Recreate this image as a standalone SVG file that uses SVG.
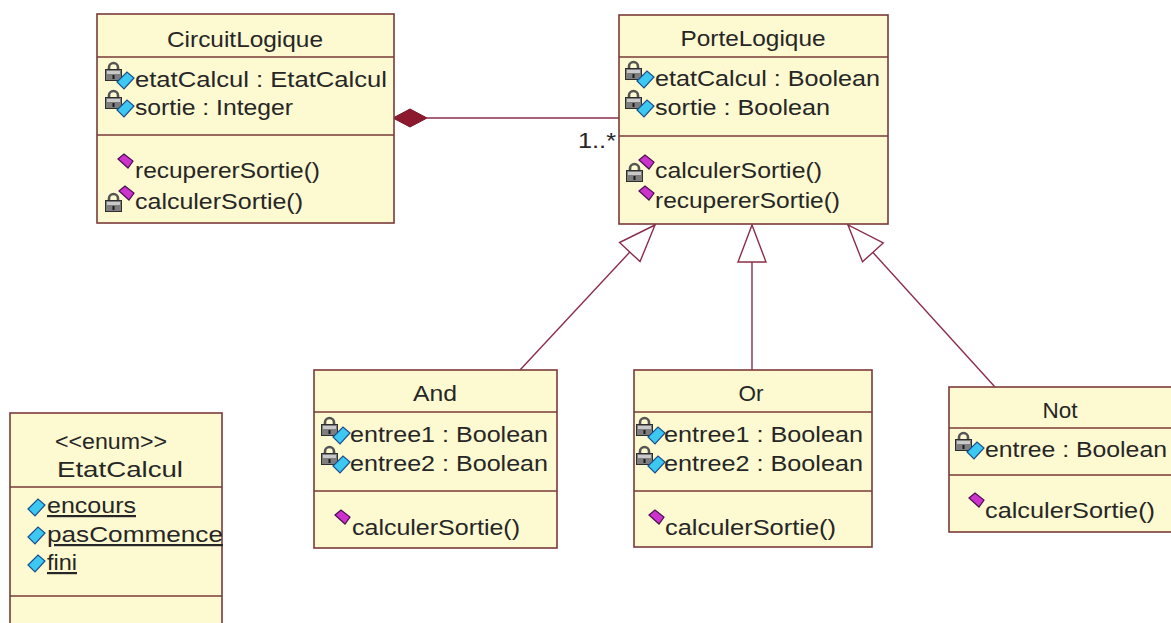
<svg xmlns="http://www.w3.org/2000/svg" xmlns:xlink="http://www.w3.org/1999/xlink" width="1171" height="623" viewBox="0 0 1171 623">
<style>
  .box { fill: #fdf9d0; stroke: #7a3a3a; stroke-width: 1.6; }
  .sep { stroke: #7a3a3a; stroke-width: 1.6; }
  .t { font-family: "Liberation Sans", Arial, sans-serif; font-size: 22px; fill: #262626; }
  .c { text-anchor: middle; }
  .u { text-decoration: underline; }
  .conn { stroke: #8b2d4a; stroke-width: 1.4; fill: none; }
</style>
<defs>
  <g id="lock">
    <path d="M5,8 V5.5 A4.5,4.5 0 0 1 14,5.5 V8" fill="none" stroke="#555" stroke-width="2.6"/>
    <rect x="1.5" y="7.5" width="16" height="11" fill="#7e7e7e" stroke="#2e2e2e"/>
    <rect x="3" y="9" width="13" height="3" fill="#c9c9c9"/>
    <rect x="8.5" y="13" width="2" height="4" fill="#1a1a1a"/>
  </g>
  <polygon id="bd" points="0,10 10,0 17,6 7,17" fill="#3cc8f0" stroke="#1a4f90" stroke-width="1.2"/>
  <polygon id="md" points="0,5 6,0 15,7 10,14" fill="#cc33cc" stroke="#4a0e50" stroke-width="1.2"/>
  <g id="attr">
    <use xlink:href="#lock"/>
    <use xlink:href="#bd" x="13" y="10"/>
  </g>
  <marker id="gen" markerUnits="userSpaceOnUse" viewBox="0 0 40 30" markerWidth="40" markerHeight="30" refX="37" refY="15" orient="auto" style="overflow:visible">
    <path d="M37,15 L0,1 L0,29 Z" fill="#ffffff" stroke="#8b2d4a" stroke-width="1.4" stroke-linejoin="miter"/>
  </marker>
</defs>
<rect x="0" y="0" width="1171" height="623" fill="#ffffff"/>

<g id="connectors">
  <line class="conn" x1="427" y1="118" x2="619" y2="118"/>
  <polygon points="393,118 410,109 427,118 410,127" fill="#8b1a2e" stroke="#7a1428" stroke-width="1"/>
  <text class="t" x="578" y="148" textLength="38" lengthAdjust="spacingAndGlyphs">1..*</text>
  <line class="conn" x1="520" y1="370" x2="655" y2="225" marker-end="url(#gen)"/>
  <line class="conn" x1="752" y1="370" x2="752" y2="225" marker-end="url(#gen)"/>
  <line class="conn" x1="995" y1="387" x2="848" y2="225" marker-end="url(#gen)"/>
</g>

<g id="CircuitLogique">
  <rect class="box" x="97" y="14" width="297" height="209"/>
  <line class="sep" x1="97" y1="57" x2="394" y2="57"/>
  <line class="sep" x1="97" y1="135" x2="394" y2="135"/>
  <text class="t c" x="245" y="47" textLength="156" lengthAdjust="spacingAndGlyphs">CircuitLogique</text>
  <use xlink:href="#attr" x="104" y="62"/>
  <text class="t" x="135" y="87" textLength="252" lengthAdjust="spacingAndGlyphs">etatCalcul : EtatCalcul</text>
  <use xlink:href="#attr" x="104" y="90"/>
  <text class="t" x="135" y="115" textLength="158" lengthAdjust="spacingAndGlyphs">sortie : Integer</text>
  <use xlink:href="#md" x="118" y="154"/>
  <text class="t" x="135" y="178" textLength="185" lengthAdjust="spacingAndGlyphs">recupererSortie()</text>
  <use xlink:href="#lock" x="104" y="193"/>
  <use xlink:href="#md" x="119" y="186"/>
  <text class="t" x="135" y="209" textLength="168" lengthAdjust="spacingAndGlyphs">calculerSortie()</text>
</g>

<g id="PorteLogique">
  <rect class="box" x="619" y="15" width="269" height="209"/>
  <line class="sep" x1="619" y1="57" x2="888" y2="57"/>
  <line class="sep" x1="619" y1="136" x2="888" y2="136"/>
  <text class="t c" x="753" y="46" textLength="145" lengthAdjust="spacingAndGlyphs">PorteLogique</text>
  <use xlink:href="#attr" x="624" y="61"/>
  <text class="t" x="655" y="86" textLength="225" lengthAdjust="spacingAndGlyphs">etatCalcul : Boolean</text>
  <use xlink:href="#attr" x="624" y="90"/>
  <text class="t" x="655" y="115" textLength="175" lengthAdjust="spacingAndGlyphs">sortie : Boolean</text>
  <use xlink:href="#lock" x="625" y="163"/>
  <use xlink:href="#md" x="639" y="155"/>
  <text class="t" x="655" y="178" textLength="167" lengthAdjust="spacingAndGlyphs">calculerSortie()</text>
  <use xlink:href="#md" x="639" y="186"/>
  <text class="t" x="655" y="208" textLength="185" lengthAdjust="spacingAndGlyphs">recupererSortie()</text>
</g>

<g id="And">
  <rect class="box" x="314" y="370" width="243" height="178"/>
  <line class="sep" x1="314" y1="412" x2="557" y2="412"/>
  <line class="sep" x1="314" y1="491" x2="557" y2="491"/>
  <text class="t c" x="435" y="401" textLength="44" lengthAdjust="spacingAndGlyphs">And</text>
  <use xlink:href="#attr" x="320" y="417"/>
  <text class="t" x="350" y="442" textLength="198" lengthAdjust="spacingAndGlyphs">entree1 : Boolean</text>
  <use xlink:href="#attr" x="320" y="446"/>
  <text class="t" x="350" y="471" textLength="198" lengthAdjust="spacingAndGlyphs">entree2 : Boolean</text>
  <use xlink:href="#md" x="335" y="510"/>
  <text class="t" x="352" y="535" textLength="168" lengthAdjust="spacingAndGlyphs">calculerSortie()</text>
</g>

<g id="Or">
  <rect class="box" x="634" y="370" width="238" height="177"/>
  <line class="sep" x1="634" y1="412" x2="872" y2="412"/>
  <line class="sep" x1="634" y1="491" x2="872" y2="491"/>
  <text class="t c" x="751" y="401" textLength="25" lengthAdjust="spacingAndGlyphs">Or</text>
  <use xlink:href="#attr" x="635" y="417"/>
  <text class="t" x="664" y="442" textLength="199" lengthAdjust="spacingAndGlyphs">entree1 : Boolean</text>
  <use xlink:href="#attr" x="635" y="446"/>
  <text class="t" x="664" y="471" textLength="199" lengthAdjust="spacingAndGlyphs">entree2 : Boolean</text>
  <use xlink:href="#md" x="649" y="510"/>
  <text class="t" x="665" y="535" textLength="171" lengthAdjust="spacingAndGlyphs">calculerSortie()</text>
</g>

<g id="Not">
  <rect class="box" x="949" y="387" width="240" height="145"/>
  <line class="sep" x1="949" y1="428" x2="1189" y2="428"/>
  <line class="sep" x1="949" y1="475" x2="1189" y2="475"/>
  <text class="t c" x="1060" y="418" textLength="35" lengthAdjust="spacingAndGlyphs">Not</text>
  <use xlink:href="#attr" x="954" y="432"/>
  <text class="t" x="985" y="457" textLength="182" lengthAdjust="spacingAndGlyphs">entree : Boolean</text>
  <use xlink:href="#md" x="969" y="493"/>
  <text class="t" x="985" y="518" textLength="170" lengthAdjust="spacingAndGlyphs">calculerSortie()</text>
</g>

<g id="EtatCalcul">
  <rect class="box" x="10" y="413" width="212" height="240"/>
  <line class="sep" x1="10" y1="487" x2="222" y2="487"/>
  <line class="sep" x1="10" y1="596" x2="222" y2="596"/>
  <text class="t" x="55" y="449" textLength="112" lengthAdjust="spacingAndGlyphs">&lt;&lt;enum&gt;&gt;</text>
  <text class="t" x="57" y="477" textLength="126" lengthAdjust="spacingAndGlyphs">EtatCalcul</text>
  <use xlink:href="#bd" x="28" y="499"/>
  <text class="t u" x="47" y="513" textLength="89" lengthAdjust="spacingAndGlyphs">encours</text>
  <use xlink:href="#bd" x="28" y="527"/>
  <text class="t u" x="47" y="542" textLength="176" lengthAdjust="spacingAndGlyphs">pasCommence</text>
  <use xlink:href="#bd" x="28" y="555"/>
  <text class="t u" x="47" y="570" textLength="30" lengthAdjust="spacingAndGlyphs">fini</text>
</g>
</svg>
